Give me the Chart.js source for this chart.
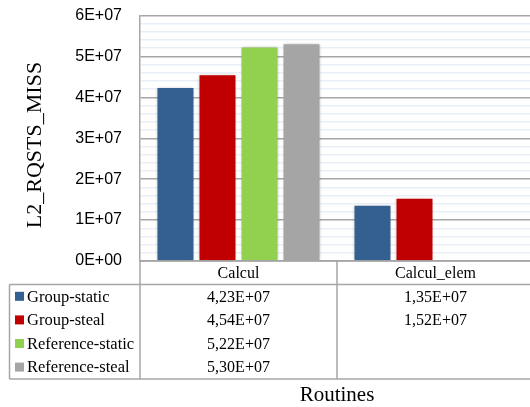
<!DOCTYPE html>
<html>
<head>
<meta charset="utf-8">
<script src="https://cdn.jsdelivr.net/npm/chart.js@4/dist/chart.umd.min.js"></script>
<style>
html, body { margin: 0; padding: 0; overflow: hidden; background: #ffffff; width: 530px; height: 407px; }
#wrap { position: relative; width: 540px; height: 407px; }
canvas { display: block; }
</style>
</head>
<body>
<div id="wrap"><canvas id="c" width="540" height="407"></canvas></div>
<script>
// ---- data ----
const categories = ['Calcul', 'Calcul_elem'];
const seriesNames = ['Group-static', 'Group-steal', 'Reference-static', 'Reference-steal'];
const groupStatic = [4.23e7, 1.35e7];
const groupSteal = [4.54e7, 1.52e7];
const referenceStatic = [5.22e7, null];
const referenceSteal = [5.30e7, null];
const yTickMax = 6e7;
const yMajorStep = 1e7;
const yMinorStep = 2e6;
const yTitle = 'L2_RQSTS_MISS';
const xTitle = 'Routines';

const colors = ['#335F91', '#C00000', '#92D050', '#A5A5A5'];
const seriesValues = [groupStatic, groupSteal, referenceStatic, referenceSteal];

const GRID_MAJOR = '#a6a6a6';
const GRID_MINOR = '#e9eff7';
const SERIF = '"Liberation Serif", "Times New Roman", serif';

function expLabel(v, digits) {
  if (v === 0) return digits ? (0).toFixed(digits).replace('.', ',') + 'E+00' : '0E+00';
  const s = v.toExponential(digits);
  const parts = s.split('e');
  let mant = parts[0].replace('.', ',');
  let exp = parseInt(parts[1], 10);
  const sign = exp < 0 ? '-' : '+';
  exp = Math.abs(exp);
  return mant + 'E' + sign + (exp < 10 ? '0' + exp : '' + exp);
}

const tablePlugin = {
  id: 'tablePlugin',
  beforeDatasetsDraw(chart) {
    const ctx = chart.ctx;
    ctx.save();
    ctx.shadowColor = 'rgba(0,0,0,0.28)';
    ctx.shadowBlur = 3;
    ctx.shadowOffsetX = 0;
    ctx.shadowOffsetY = 0;
  },
  afterDatasetsDraw(chart) {
    chart.ctx.restore();
  },
  afterDraw(chart) {
    const ctx = chart.ctx;
    const area = chart.chartArea;
    const xs = chart.scales.x;
    const n = categories.length;
    const catW = (area.right - area.left) / n;
    const top = area.bottom;
    const headerBottom = top + 23.5;
    const rowH = 23.6;
    const bottom = headerBottom + rowH * seriesNames.length;
    const legendLeft = 9.5;

    ctx.save();
    ctx.strokeStyle = GRID_MAJOR;
    ctx.lineWidth = 1.5;
    ctx.beginPath();
    ctx.moveTo(area.left, top); ctx.lineTo(chart.width, top);
    ctx.moveTo(legendLeft, headerBottom); ctx.lineTo(chart.width, headerBottom);
    ctx.moveTo(legendLeft, bottom); ctx.lineTo(chart.width, bottom);
    ctx.moveTo(legendLeft, headerBottom); ctx.lineTo(legendLeft, bottom);
    ctx.moveTo(area.left, top); ctx.lineTo(area.left, bottom);
    for (let i = 1; i < n; i++) {
      const x = area.left + catW * i;
      ctx.moveTo(x, top); ctx.lineTo(x, bottom);
    }
    ctx.stroke();

    ctx.fillStyle = '#000000';
    ctx.font = '16px ' + SERIF;
    ctx.textAlign = 'center';
    ctx.textBaseline = 'middle';
    categories.forEach((c, i) => {
      const cx = xs.getPixelForValue(i);
      ctx.fillText(c, cx, (top + headerBottom) / 2 + 1);
    });
    seriesNames.forEach((name, r) => {
      const cy = headerBottom + rowH * (r + 0.5);
      ctx.fillStyle = colors[r];
      ctx.fillRect(15, cy - 4.5, 9, 9);
      ctx.fillStyle = '#000000';
      ctx.textAlign = 'left';
      ctx.font = '16.5px ' + SERIF;
      ctx.fillText(name, 27, cy + 1);
      ctx.textAlign = 'center';
      ctx.font = '16px ' + SERIF;
      seriesValues[r].forEach((v, i) => {
        if (v === null || v === undefined) return;
        ctx.fillText(expLabel(v, 2), xs.getPixelForValue(i), cy + 1);
      });
    });

    ctx.font = '21px ' + SERIF;
    ctx.textAlign = 'center';
    ctx.fillText(xTitle, (area.left + area.right) / 2, 395);
    ctx.save();
    ctx.translate(35, 145);
    ctx.rotate(-Math.PI / 2);
    ctx.font = '22px ' + SERIF;
    ctx.fillText(yTitle, 0, 0);
    ctx.restore();
    ctx.restore();
  }
};

new Chart(document.getElementById('c'), {
  type: 'bar',
  data: {
    labels: categories,
    datasets: seriesNames.map((name, i) => ({
      label: name,
      data: seriesValues[i],
      backgroundColor: colors[i],
      borderWidth: 0,
      categoryPercentage: 0.853,
      barPercentage: 0.857
    }))
  },
  options: {
    responsive: false,
    animation: false,
    devicePixelRatio: 1,
    layout: { padding: { left: 0, top: 15.5, right: 6, bottom: 146 } },
    plugins: { legend: { display: false }, tooltip: { enabled: false }, title: { display: false } },
    scales: {
      x: {
        display: false,
        grid: { display: false }
      },
      y: {
        min: 0,
        max: yTickMax,
        afterFit(scale) { scale.width = 140; scale.paddingTop = 0; scale.paddingBottom = 0; },
        border: { display: true, color: GRID_MAJOR, width: 1.5 },
        grid: {
          drawTicks: false,
          color: (c) => (c.tick && c.tick.value % yMajorStep === 0) ? GRID_MAJOR : GRID_MINOR,
          lineWidth: 1.5
        },
        ticks: {
          stepSize: yMinorStep,
          autoSkip: false,
          padding: 18,
          color: '#000000',
          font: { family: '"Liberation Sans", Arial, sans-serif', size: 16 },
          callback: (v) => (v % yMajorStep === 0) ? expLabel(v, 0) : ''
        }
      }
    }
  },
  plugins: [tablePlugin]
});
</script>
</body>
</html>
